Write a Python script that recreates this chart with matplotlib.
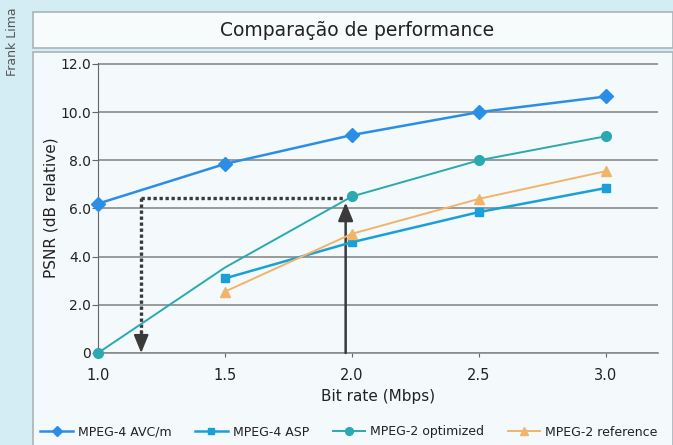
import matplotlib
matplotlib.use("Agg")
import matplotlib.pyplot as plt
from matplotlib.patches import Rectangle

bitrate = [1.0, 1.5, 2.0, 2.5, 3.0]
avc = [6.2, 7.85, 9.05, 10.0, 10.65]
asp_x = [1.5, 2.0, 2.5, 3.0]
asp = [3.1, 4.6, 5.85, 6.85]
opt = [0.0, 3.55, 6.5, 8.0, 9.0]
ref_x = [1.5, 2.0, 2.5, 3.0]
ref = [2.55, 4.95, 6.4, 7.55]
yticks = [0, 2, 4, 6, 8, 10, 12]
ytick_labels = ["0", "2.0", "4.0", "6.0", "8.0", "10.0", "12.0"]
xticks = [1.0, 1.5, 2.0, 2.5, 3.0]
xtick_labels = ["1.0", "1.5", "2.0", "2.5", "3.0"]
names = ["MPEG-4 AVC/m", "MPEG-4 ASP", "MPEG-2 optimized", "MPEG-2 reference"]

plt.rcParams['font.family'] = ['DejaVu Sans']
W, H = 673, 445
fig = plt.figure(figsize=(W/100, H/100), dpi=100)
fig.patch.set_facecolor('#d4ecf4')

def fx(px): return px / W
def fy(py): return 1 - py / H

# panels
fig.patches.append(Rectangle((fx(33), fy(48)), fx(673-33), (48-12)/H, transform=fig.transFigure,
                             facecolor='#f7fbfc', edgecolor='#a9b4b8', lw=1.2, zorder=-2))
fig.patches.append(Rectangle((fx(33), fy(447)), fx(673-33), (447-52)/H, transform=fig.transFigure,
                             facecolor='#f4f9fb', edgecolor='#a9b4b8', lw=1.2, zorder=-2))
fig.text(fx(357), fy(31), "Comparação de performance", ha='center', va='center', fontsize=13.5, color='#222222')
fig.text(fx(13), fy(42), "Frank Lima", rotation=90, ha='center', va='center', fontsize=9, color='#555555')

ax = fig.add_axes([fx(98), fy(353), fx(658-98), (353-63)/H])
ax.set_facecolor('none')
ax.set_xlim(1.0, 1.0 + (658-98)/254)
ax.set_ylim(0, 12.04)
ax.set_yticks(yticks)
ax.set_yticklabels(ytick_labels, fontsize=10, color='#222222')
ax.set_xticks(xticks)
ax.set_xticklabels(xtick_labels, fontsize=10.5, color='#222222')
ax.grid(axis='y', color='#8a8a8a', lw=1.2)
ax.set_axisbelow(True)
for s in ['top', 'right']:
    ax.spines[s].set_visible(False)
ax.spines['left'].set_color('#666666')
ax.spines['bottom'].set_color('#8a8a8a')
ax.spines['bottom'].set_linewidth(1.2)
ax.tick_params(axis='y', length=4, color='#666666', pad=1)
ax.tick_params(axis='x', length=3, color='#666666', pad=8)

c_avc = '#2b8ee6'
c_asp = '#1aa0d8'
c_opt = '#2aaab0'
c_ref = '#f2b46a'
ax.plot(bitrate, avc, color=c_avc, marker='D', ms=7, lw=1.8, label=names[0], clip_on=False, zorder=5)
ax.plot(asp_x, asp, color=c_asp, marker='s', ms=6, lw=1.8, label=names[1], clip_on=False, zorder=5)
ax.plot(bitrate, opt, color=c_opt, marker='o', ms=7, lw=1.4, label=names[2], markevery=[0, 2, 3, 4], clip_on=False, zorder=5)
ax.plot(ref_x, ref, color=c_ref, marker='^', ms=7, lw=1.4, label=names[3], clip_on=False, zorder=5)

# annotation arrows
dark = '#3a3a3a'
ax.plot([1.17, 1.97], [6.45, 6.45], color=dark, lw=2.4, ls=(0, (1, 0.8)), zorder=4)
ax.plot([1.17, 1.17], [6.45, 0.8], color=dark, lw=2.4, ls=(0, (1, 0.8)), zorder=4)
ax.annotate("", xy=(1.17, 0.0), xytext=(1.17, 0.9),
            arrowprops=dict(arrowstyle='-|>,head_length=1.1,head_width=0.45', color=dark, lw=1.5,
                            shrinkA=0, shrinkB=0), zorder=4)
ax.annotate("", xy=(1.975, 6.25), xytext=(1.975, 0.0),
            arrowprops=dict(arrowstyle='-|>,head_length=1.1,head_width=0.45', color=dark, lw=1.8,
                            shrinkA=0, shrinkB=0), zorder=4)

ax.set_xlabel("Bit rate (Mbps)", fontsize=11, color='#222222', labelpad=4)
ax.set_ylabel("PSNR (dB relative)", fontsize=11, color='#222222', labelpad=1)

leg = fig.legend(loc='center', bbox_to_anchor=(fx(349), fy(432)), ncol=4, frameon=False,
                 fontsize=9, handlelength=2.6, columnspacing=1.9, handletextpad=0.4, markerscale=0.8)
for t in leg.get_texts():
    t.set_color('#222222')
fig.savefig("out.png", dpi=100, facecolor=fig.get_facecolor())
